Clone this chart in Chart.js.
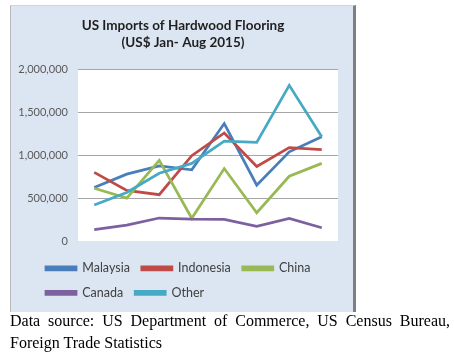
<!DOCTYPE html>
<html><head><meta charset="utf-8">
<script src="https://cdn.jsdelivr.net/npm/chart.js@4/dist/chart.umd.min.js"></script>
<style>
html,body{margin:0;padding:0;background:#fff;width:454px;height:355px;overflow:hidden;position:relative}
#box{position:absolute;left:10px;top:5px;width:342px;height:306px;background:#dce6f2;border-left:1px solid #b9b9b9;border-top:1px solid #d4d4d4;border-right:3px solid #7f7f7f}
#wrap{position:absolute;left:0;top:0;width:454px;height:312px}
#cap{position:absolute;left:10px;top:310px;width:440px;font-family:"Liberation Serif","Times New Roman",serif;font-size:16px;line-height:22px;text-align:justify;color:#000}
</style></head><body>
<div id="box"></div>
<div id="wrap"><canvas id="c" width="454" height="312"></canvas></div>
<div id="cap">Data source: US Department of Commerce, US Census Bureau, Foreign Trade Statistics</div>
<script>
const months = ["Jan","Feb","Mar","Apr","May","Jun","Jul","Aug"];
const malaysia  = [625000, 780000, 875000, 830000, 1370000, 650000, 1040000, 1215000];
const indonesia = [800000, 590000, 540000, 995000, 1260000, 870000, 1090000, 1065000];
const china     = [615000, 500000, 940000, 265000, 845000, 330000, 755000, 905000];
const canada    = [133000, 185000, 268000, 255000, 253000, 172000, 263000, 155000];
const other     = [420000, 565000, 790000, 905000, 1165000, 1150000, 1815000, 1215000];
const yTicks = [0, 500000, 1000000, 1500000, 2000000];
const titleLines = ["US Imports of Hardwood Flooring", "(US$ Jan- Aug 2015)"];

const plotBg = {
  id: 'plotBg',
  beforeDraw(chart) {
    const a = chart.chartArea, ctx = chart.ctx;
    ctx.save(); ctx.fillStyle = '#ffffff';
    ctx.fillRect(a.left, a.top, a.right - a.left, a.bottom - a.top);
    ctx.restore();
  },
  afterLayout(chart) { if (chart.legend) chart.legend.left = 34; }
};

function ds(label, data, color, order) {
  return { label, data, borderColor: color, backgroundColor: color, borderWidth: 2.75,
    pointRadius: 0, pointHoverRadius: 0, tension: 0, fill: false, order };
}

new Chart(document.getElementById('c'), {
  type: 'line',
  data: {
    labels: months,
    datasets: [
      ds('Malaysia', malaysia, '#4a7ebb', 5),
      ds('Indonesia', indonesia, '#be4b48', 4),
      ds('China', china, '#98b954', 3),
      ds('Canada', canada, '#7d60a0', 2),
      ds('Other', other, '#46aac5', 1)
    ]
  },
  plugins: [plotBg],
  options: {
    responsive: false, animation: false, devicePixelRatio: 1,
    layout: { padding: { left: 10, right: 98, top: 5, bottom: 3 } },
    plugins: {
      title: { display: true, text: titleLines, color: '#1f1f1f',
        font: { family: 'Lato', size: 13.5, weight: 'bold', lineHeight: 17/13.5 },
        padding: { top: 12.5, bottom: 18 } },
      legend: { position: 'bottom', align: 'start',
        labels: { boxWidth: 30, boxHeight: 3, padding: 12, color: '#404040',
          font: { family: 'Lato', size: 12.5 },
          sort: (a, b) => a.datasetIndex - b.datasetIndex } },
      tooltip: { enabled: false }
    },
    scales: {
      x: { type: 'category', offset: true,
        grid: { display: false }, border: { display: false },
        ticks: { display: false },
        afterFit(s) { s.height = 9; } },
      y: { min: 0, max: 2000000,
        afterBuildTicks(s) { s.ticks = yTicks.map(v => ({ value: v })); },
        grid: { color: (c) => c.tick && c.tick.value === 0 ? 'rgba(0,0,0,0)' : '#a6a6a6', lineWidth: 1, drawTicks: false },
        border: { display: false },
        ticks: { padding: 10, color: '#595959', font: { family: 'Lato', size: 11 },
          callback: (v) => Number(v).toLocaleString('en-US') },
        afterFit(s) { s.width = 68; } },
      y2: { position: 'right', display: true, min: 0, max: 2000000,
        grid: { display: false }, border: { display: false }, ticks: { display: false },
        afterFit(s) { s.width = 18; } }
    }
  }
});
</script>
</body></html>
